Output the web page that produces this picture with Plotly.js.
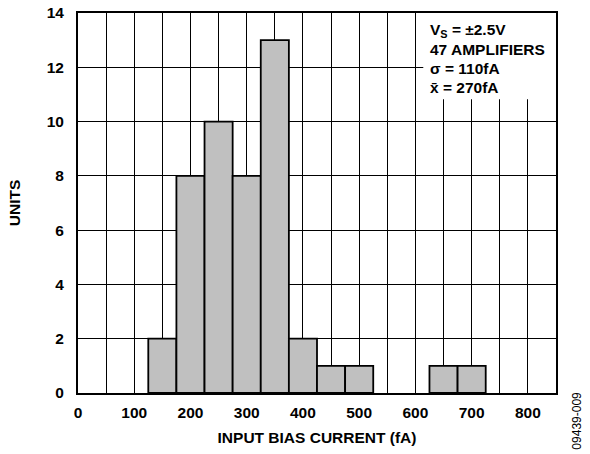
<!DOCTYPE html>
<html><head><meta charset="utf-8">
<script src="https://cdn.plot.ly/plotly-3.0.1.min.js"></script>
<style>html,body{margin:0;padding:0;background:#fff;}#chart{width:590px;height:454px;}</style>
</head><body><div id="chart"></div>
<script>
const binCenters = [150, 200, 250, 300, 350, 400, 450, 500, 650, 700];
const binCounts  = [2, 8, 10, 8, 13, 2, 1, 1, 1, 1];
const binWidth = 50;
const xTicks = [0, 100, 200, 300, 400, 500, 600, 700, 800];
const yTicks = [0, 2, 4, 6, 8, 10, 12, 14];
const infoLines = ["V<sub>S</sub> = ±2.5V", "47 AMPLIFIERS", "σ = 110fA", "x̄ = 270fA"];
const infoY = [13.35, 12.66, 11.96, 11.26];

const fam = "Liberation Sans, Arial, sans-serif";
const trace = {
  type: "bar", x: binCenters, y: binCounts, width: binWidth,
  marker: {color: "#c0c0c0", line: {color: "#000", width: 1.8}},
  hoverinfo: "none"
};
const annotations = infoLines.map((t, i) => ({
  xref: "x", yref: "y", x: 622, y: infoY[i], xanchor: "left", yanchor: "middle",
  align: "left", showarrow: false, text: "<b>" + t + "</b>",
  font: {family: fam, size: 15.5, color: "#000"}
}));
annotations.push({
  xref: "paper", yref: "paper", x: 1.0445, y: -0.072, xanchor: "center", yanchor: "middle",
  showarrow: false, textangle: -90, text: "09439-009",
  font: {family: fam, size: 12, color: "#000"}
});
const layout = {
  width: 590, height: 454,
  margin: {l: 78, r: 34, t: 13, b: 61},
  paper_bgcolor: "#fff", plot_bgcolor: "#fff",
  showlegend: false,
  font: {family: fam, size: 15, color: "#000"},
  bargap: 0,
  xaxis: {
    range: [0, 850], tickvals: xTicks, ticktext: xTicks.map(v => "<b>" + v + "</b>"),
    showgrid: false,
    minor: {dtick: 50, tick0: 0, showgrid: true, gridcolor: "#000", gridwidth: 1.1},
    showline: true, linecolor: "#000", linewidth: 2, mirror: true,
    ticks: "", zeroline: false, ticklabelstandoff: 4,
    tickfont: {family: fam, size: 15.5, color: "#000"},
    title: {text: "<b>INPUT BIAS CURRENT (fA)</b>", font: {family: fam, size: 15.5, color: "#000"}, standoff: 13}
  },
  yaxis: {
    range: [0, 14], tickvals: yTicks, ticktext: yTicks.map(v => "<b>" + v + "</b>"),
    showgrid: true, gridcolor: "#000", gridwidth: 1.1,
    showline: true, linecolor: "#000", linewidth: 2, mirror: true,
    ticks: "", zeroline: false, ticklabelstandoff: 9,
    tickfont: {family: fam, size: 15.5, color: "#000"},
    title: {text: "<b>UNITS</b>", font: {family: fam, size: 15.5, color: "#000"}, standoff: 22}
  },
  shapes: [{
    type: "rect", xref: "x", yref: "y", x0: 614, x1: 850, y0: 10.82, y1: 14,
    fillcolor: "#fff", line: {width: 0}, layer: "between"
  }],
  annotations: annotations
};
Plotly.newPlot("chart", [trace], layout, {staticPlot: true, displayModeBar: false});
</script></body></html>
